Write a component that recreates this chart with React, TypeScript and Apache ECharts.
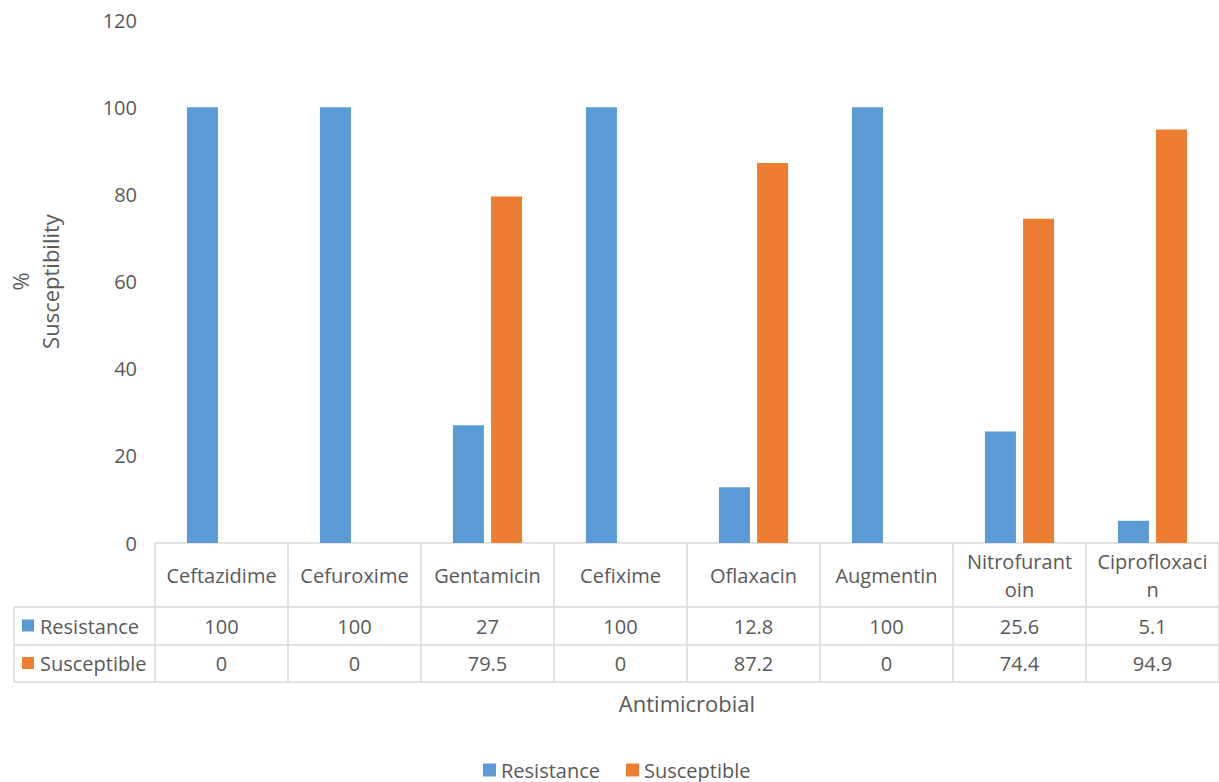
import React, { useEffect, useRef } from "react";
import * as echarts from "echarts";

const categories = [
  "Ceftazidime",
  "Cefuroxime",
  "Gentamicin",
  "Cefixime",
  "Oflaxacin",
  "Augmentin",
  "Nitrofurantoin",
  "Ciprofloxacin",
];
const headerLabels = [
  "Ceftazidime",
  "Cefuroxime",
  "Gentamicin",
  "Cefixime",
  "Oflaxacin",
  "Augmentin",
  "Nitrofurant\noin",
  "Ciprofloxaci\nn",
];
const resistance = [100, 100, 27, 100, 12.8, 100, 25.6, 5.1];
const susceptible = [0, 0, 79.5, 0, 87.2, 0, 74.4, 94.9];
const seriesNames = ["Resistance", "Susceptible"];
const colors = ["#5B9BD5", "#ED7D31"];

const FONT = "'Open Sans', 'DejaVu Sans', sans-serif";
const TEXT = "#595959";
const LINE = "#d9d9d9";

export default function App() {
  const ref = useRef<HTMLDivElement>(null);
  useEffect(() => {
    if (!ref.current) return;
    const chart = echarts.init(ref.current, null, { renderer: "svg" });
    const gridLeft = 155;
    const gridRight = 0;
    const gridTop = 20;
    const gridBottom = 782 - 543;
    const W = 1219;
    const axisY = 543;
    const rowTops = [607, 645, 682];
    const tableLeft = 14;

    chart.setOption({
      animation: false,
      textStyle: { fontFamily: FONT },
      color: colors,
      grid: {
        left: gridLeft,
        right: gridRight,
        top: gridTop,
        bottom: gridBottom,
        containLabel: false,
        outerBoundsMode: "none",
      },
      legend: {
        data: seriesNames,
        left: 483,
        top: 760,
        padding: 0,
        icon: "rect",
        itemWidth: 13,
        itemHeight: 13,
        itemGap: 26,
        textStyle: { color: TEXT, fontSize: 20, fontFamily: FONT },
      },
      xAxis: {
        type: "category",
        data: categories,
        name: "Antimicrobial",
        nameLocation: "middle",
        nameGap: 160,
        nameTextStyle: { color: TEXT, fontSize: 22, fontFamily: FONT, verticalAlign: "middle" },
        axisLine: { show: true, lineStyle: { color: LINE, width: 1.5 } },
        axisTick: { show: true, length: rowTops[2] - axisY, lineStyle: { color: LINE, width: 1.5 } },
        axisLabel: {
          color: TEXT,
          fontSize: 20,
          fontFamily: FONT,
          margin: 32,
          verticalAlign: "middle",
          lineHeight: 28,
          interval: 0,
          formatter: (_v: string, i: number) => headerLabels[i],
        },
      },
      yAxis: {
        type: "value",
        min: 0,
        max: 120,
        interval: 20,
        name: "%\nSusceptibility",
        nameLocation: "middle",
        nameRotate: 90,
        nameGap: 90,
        nameTextStyle: { color: TEXT, fontSize: 22, fontFamily: FONT, lineHeight: 30 },
        axisLine: { show: false },
        axisTick: { show: false },
        splitLine: { show: false },
        axisLabel: { color: TEXT, fontSize: 20, fontFamily: FONT, margin: 18 },
      },
      series: [
        { name: seriesNames[0], type: "bar", data: resistance, barWidth: 31, barGap: "23%" },
        { name: seriesNames[1], type: "bar", data: susceptible, barWidth: 31, barGap: "23%" },
      ],
    });

    const rows = [resistance, susceptible];
    const graphics: any[] = [];
    rowTops.forEach((y) => {
      graphics.push({
        type: "line",
        shape: { x1: tableLeft, y1: y, x2: W, y2: y },
        style: { stroke: LINE, lineWidth: 1.5 },
      });
    });
    graphics.push({
      type: "line",
      shape: { x1: tableLeft, y1: rowTops[0], x2: tableLeft, y2: rowTops[2] },
      style: { stroke: LINE, lineWidth: 1.5 },
    });
    rows.forEach((vals, r) => {
      const cy = (rowTops[r] + rowTops[r + 1]) / 2;
      graphics.push({
        type: "rect",
        shape: { x: 22, y: cy - 6.5, width: 12, height: 12 },
        style: { fill: colors[r] },
      });
      graphics.push({
        type: "text",
        x: 40,
        y: cy,
        style: { text: seriesNames[r], fill: TEXT, fontSize: 20, fontFamily: FONT, align: "left", verticalAlign: "middle" },
      });
      vals.forEach((v, i) => {
        const cx = chart.convertToPixel({ xAxisIndex: 0 }, categories[i]) as number;
        graphics.push({
          type: "text",
          x: cx,
          y: cy,
          style: { text: String(v), fill: TEXT, fontSize: 20, fontFamily: FONT, align: "center", verticalAlign: "middle" },
        });
      });
    });
    chart.setOption({ graphic: graphics });

    return () => chart.dispose();
  }, []);
  return (
    <div
      ref={ref}
      style={{ position: "absolute", left: 0, top: 0, width: 1219, height: 782, background: "#fff" }}
    />
  );
}
